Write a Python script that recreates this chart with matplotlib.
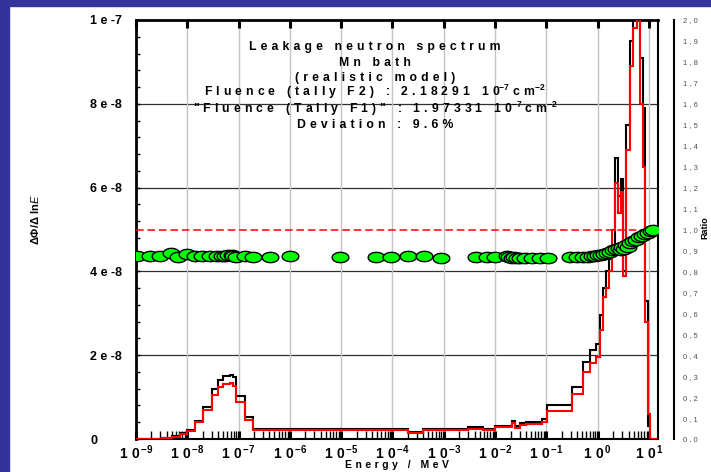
import numpy as np
import matplotlib
matplotlib.use('Agg')
import matplotlib.pyplot as plt
from matplotlib.patches import Rectangle
from matplotlib.path import Path
from matplotlib.ticker import FixedLocator, MultipleLocator, LogLocator, NullFormatter

plt.rcParams['font.family'] = ['Liberation Sans', 'DejaVu Sans']
plt.rcParams['mathtext.fontset'] = 'custom'
plt.rcParams['mathtext.rm'] = 'Liberation Sans'
plt.rcParams['mathtext.it'] = 'Liberation Sans:italic'
plt.rcParams['mathtext.bf'] = 'Liberation Sans:bold'

# group boundaries, log10(E / MeV)
log_edges = [-9.00, -8.49, -8.30, -8.14, -8.00, -7.85, -7.70, -7.52, -7.40, -7.30,
             -7.17, -7.11, -7.05, -6.88, -6.72, -6.00, -4.30, -4.01, -3.70, -3.41,
             -3.02, -2.53, -2.24, -2.00, -1.67, -1.61, -1.51, -1.40, -1.09, -0.99,
             -0.50, -0.29, -0.15, -0.03, 0.045, 0.10, 0.16, 0.22, 0.28, 0.34,
             0.40, 0.45, 0.49, 0.55, 0.63, 0.69, 0.77, 0.82, 0.88, 0.92,
             0.98, 1.02, 1.18]

# lethargy spectrum, units of 1e-8
flux_f2 = [0.01, 0.03, 0.07, 0.14, 0.21, 0.44, 0.77, 1.19, 1.42, 1.50,
           1.52, 1.47, 1.03, 0.52, 0.24, 0.23, 0.24, 0.23, 0.17, 0.25,
           0.23, 0.28, 0.24, 0.32, 0.44, 0.31, 0.37, 0.41, 0.48, 0.80,
           1.25, 1.83, 2.12, 2.26, 2.95, 3.6, 4.0, 4.3, 4.4, 6.7,
           5.8, 6.2, 4.0, 7.5, 9.5, 10.5, 10.5, 9.1, 7.9, 3.3,
           0.3, 0.0]
flux_f1 = [0.005, 0.02, 0.05, 0.11, 0.18, 0.41, 0.69, 1.05, 1.25, 1.31,
           1.33, 1.27, 0.89, 0.45, 0.22, 0.21, 0.22, 0.21, 0.15, 0.22,
           0.21, 0.24, 0.21, 0.29, 0.39, 0.26, 0.33, 0.36, 0.41, 0.67,
           1.07, 1.61, 1.81, 1.96, 2.6, 3.4, 3.6, 4.0, 5.0, 6.1,
           5.4, 5.9, 3.9, 6.9, 8.9, 9.8, 10.3, 8.0, 6.5, 2.8,
           0.6, 0.0]

# F1 / F2 ratio points
ratio_log_e = [-8.99, -8.73, -8.53, -8.32, -8.18, -8.00, -7.85, -7.72, -7.56, -7.43,
               -7.33, -7.27, -7.20, -7.13, -7.10, -7.05, -6.88, -6.71, -6.39, -6.00,
               -5.02, -4.32, -4.02, -3.70, -3.39, -3.05, -2.37, -2.16, -2.00, -1.77,
               -1.72, -1.67, -1.63, -1.57, -1.51, -1.42, -1.28, -1.12, -0.97, -0.54,
               -0.40, -0.29, -0.19, -0.11, -0.05, 0.01, 0.06, 0.12, 0.18, 0.24,
               0.30, 0.36, 0.42, 0.45, 0.47, 0.51, 0.55, 0.59, 0.63, 0.69,
               0.75, 0.81, 0.86, 0.92, 0.98, 1.04, 1.08]
ratio_values = [0.873, 0.875, 0.873, 0.886, 0.870, 0.882, 0.875, 0.873, 0.873, 0.873,
                0.875, 0.875, 0.877, 0.877, 0.875, 0.868, 0.873, 0.870, 0.870, 0.873,
                0.868, 0.868, 0.870, 0.875, 0.873, 0.866, 0.868, 0.870, 0.870, 0.873,
                0.868, 0.866, 0.870, 0.866, 0.866, 0.866, 0.866, 0.866, 0.866, 0.868,
                0.868, 0.870, 0.870, 0.873, 0.875, 0.877, 0.880, 0.884, 0.888, 0.893,
                0.900, 0.905, 0.912, 0.900, 0.918, 0.905, 0.925, 0.915, 0.935, 0.945,
                0.952, 0.962, 0.970, 0.978, 0.985, 0.993, 0.998]

decades = list(range(-9, 2))
y_ticks = [0, 2e-8, 4e-8, 6e-8, 8e-8, 1e-7]
y_tick_labels = ['0', '2 e -8', '4 e -8', '6 e -8', '8 e -8', '1 e -7']
ratio_ticks = [round(0.1 * i, 1) for i in range(21)]


def spread(s, gap='\u2004'):
    """insert a gap between every character"""
    return gap.join(s)


title_lines = [
    spread('Leakage neutron spectrum'),
    spread('Mn bath'),
    spread('(realistic model)'),
    spread('Fluence (tally F2) : 2.18291 10') + r'$^{\mathbf{-7}}$ ' + spread('cm') + r'$^{\mathbf{-2}}$',
    spread('"Fluence (Tally F1)" : 1.97331 10') + r'$^{\mathbf{-7}}$ ' + spread('cm') + r'$^{\mathbf{-2}}$',
    spread('Deviation : 9.6%'),
]
title_y_px = [50, 66, 81, 96, 113, 128]

W, H = 711, 472
fig = plt.figure(figsize=(W / 100, H / 100), dpi=100)
fig.patch.set_facecolor('white')

# frame strips along the left and top edges
fig.patches.append(Rectangle((0, 0), 9 / W, 1, transform=fig.transFigure,
                             color='#333399', zorder=0))
fig.patches.append(Rectangle((0, 1 - 6 / H), 1, 6 / H, transform=fig.transFigure,
                             color='#333399', zorder=0))

ax = fig.add_axes([136 / W, 1 - 439 / H, (658 - 136) / W, (439 - 20) / H])
edges = 10.0 ** np.array(log_edges)

ax.stairs(np.array(flux_f2) * 1e-8, edges, color='black', lw=1.5, zorder=3)
ax.stairs(np.array(flux_f1) * 1e-8, edges, color='red', lw=1.5, zorder=3)

ax.set_xscale('log')
ax.set_xlim(1e-9, 15)
ax.set_ylim(0, 1e-7)

for v in y_ticks[1:-1]:
    ax.axhline(v, color='#303030', lw=0.9, zorder=1)
for d in decades[1:]:
    ax.axvline(10.0 ** d, color='#c4c4c4', lw=1.0, zorder=1)

ax.xaxis.set_major_locator(FixedLocator([10.0 ** d for d in decades]))
ax.xaxis.set_minor_locator(LogLocator(base=10, subs=np.arange(2, 10), numticks=30))
ax.xaxis.set_minor_formatter(NullFormatter())
ax.set_xticklabels(['1\u20040' + r'$^{\,\mathbf{%d}}$' % d for d in decades],
                   fontweight='bold', fontsize=10)
ax.tick_params(axis='x', which='major', direction='in', top=True, bottom=True,
               length=6, width=2.2, pad=3)
ax.tick_params(axis='x', which='minor', direction='in', top=False, bottom=True,
               length=6, width=1)

ax.yaxis.set_major_locator(FixedLocator(y_ticks))
ax.yaxis.set_minor_locator(MultipleLocator(0.4e-8))
ax.set_yticklabels(y_tick_labels, fontweight='bold', fontsize=9)
for lbl in ax.get_yticklabels():
    lbl.set_horizontalalignment('left')
ax.tick_params(axis='y', which='both', direction='in', left=True, right=True,
               length=3, width=1)
ax.tick_params(axis='y', which='major', pad=33)

for side, lw in [('left', 2.0), ('top', 2.0), ('right', 1.5), ('bottom', 1.5)]:
    ax.spines[side].set_linewidth(lw)

# ratio scale on the far right
ax2 = ax.twinx()
ax2.set_ylim(0, 2)
ax2.set_xlim(ax.get_xlim())
ax2.axhline(1.0, color='red', lw=1.1, ls=(0, (5, 2.5)), zorder=2)

t = np.linspace(0, 2 * np.pi, 41)
ellipse = Path(np.column_stack([np.cos(t), 0.62 * np.sin(t)]), closed=True)
ax2.plot(10.0 ** np.array(ratio_log_e), ratio_values, ls='none', marker=ellipse,
         ms=12, mfc='#00ff00', mec='black', mew=1.0, zorder=4)

for side in ['left', 'top', 'bottom']:
    ax2.spines[side].set_visible(False)
ax2.spines['right'].set_position(('outward', 11.5))
ax2.spines['right'].set_linewidth(1.5)
ax2.yaxis.set_major_locator(FixedLocator(ratio_ticks))
ax2.yaxis.set_minor_locator(MultipleLocator(0.5))
ax2.set_yticklabels([f'{v:.1f}'.replace('.', ' , ') for v in ratio_ticks],
                    fontsize=5.5, color='#505050')
ax2.tick_params(axis='y', which='major', length=0, pad=6.5)
ax2.tick_params(axis='y', which='minor', direction='out', length=3.5, width=1.2)

for text, yp in zip(title_lines, title_y_px):
    fig.text(375 / W, 1 - yp / H, text, ha='center', va='baseline',
             fontsize=8.8, fontweight='bold')

fig.text(35 / W, 1 - 220 / H, 'ΔΦ/Δ ln' + r'$\mathit{E}$', rotation=90,
         ha='center', va='center', fontsize=8, fontweight='bold')
fig.text(705 / W, 1 - 228 / H, 'Ratio', rotation=90, ha='center', va='center',
         fontsize=6.5, fontweight='bold')
fig.text(397 / W, 1 - 460.5 / H, spread('Energy / MeV'), ha='center', va='top',
         fontsize=7.5, fontweight='bold')

fig.savefig('out.png', dpi=100)
